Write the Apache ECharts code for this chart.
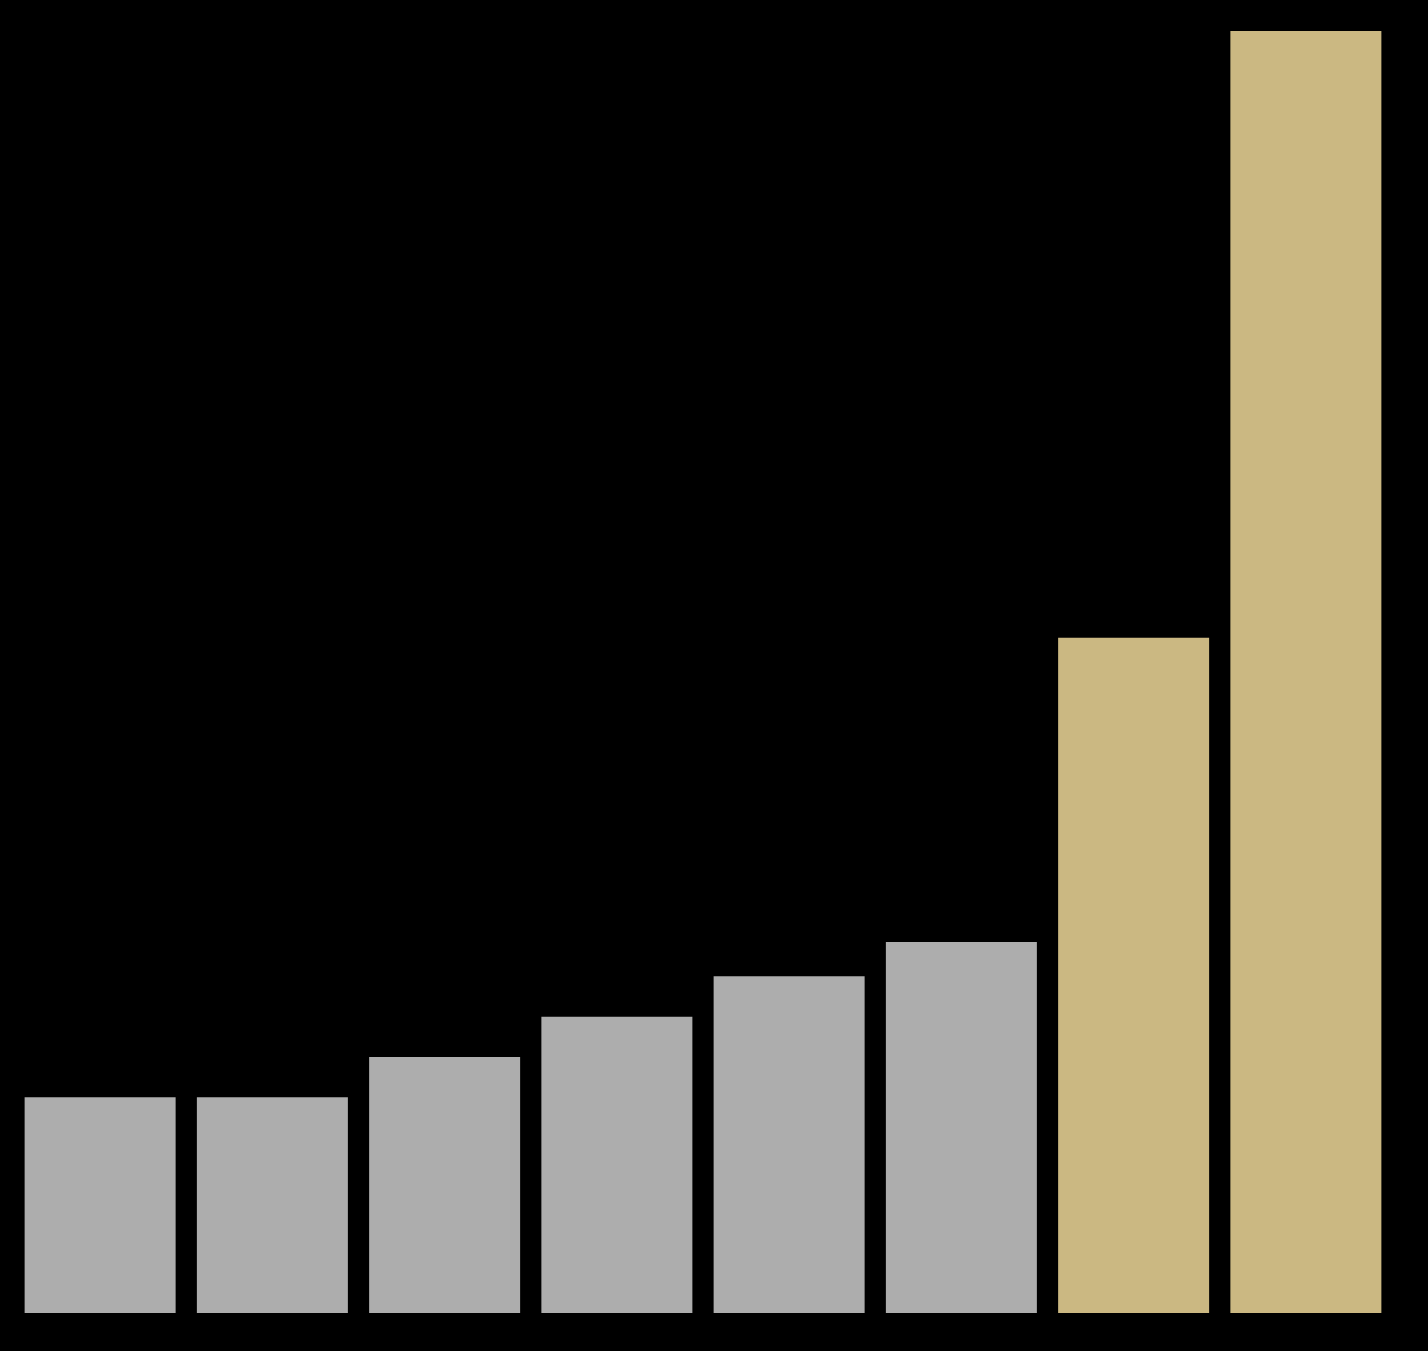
<!DOCTYPE html>
<html>
<head>
<meta charset="utf-8">
<script src="https://cdn.jsdelivr.net/npm/echarts@6/dist/echarts.min.js"></script>
<style>
html,body{margin:0;padding:0;background:#000;}
#chart{width:1428px;height:1351px;}
</style>
</head>
<body>
<div id="chart"></div>
<script>
const categories = ["1", "2", "3", "4", "5", "6", "7", "8"];
const values = [5.35, 5.35, 6.35, 7.35, 8.35, 9.2, 16.75, 31.8];
const highlighted = [false, false, false, false, false, false, true, true];
const grayColor = "#adadad";
const goldColor = "#cbb882";

const chart = echarts.init(document.getElementById('chart'), null, {renderer: 'canvas'});
chart.setOption({
  backgroundColor: '#000000',
  animation: false,
  grid: {left: 14, right: 36, top: 31, bottom: 38, containLabel: false},
  xAxis: {
    type: 'category',
    data: categories,
    axisLine: {show: false},
    axisTick: {show: false},
    axisLabel: {show: false}
  },
  yAxis: {
    type: 'value',
    min: 0,
    max: 31.8,
    splitLine: {show: false},
    axisLine: {show: false},
    axisTick: {show: false},
    axisLabel: {show: false}
  },
  series: [{
    type: 'bar',
    barWidth: 151,
    data: values.map((v, i) => ({
      value: v,
      itemStyle: {color: highlighted[i] ? goldColor : grayColor}
    }))
  }]
});
</script>
</body>
</html>
